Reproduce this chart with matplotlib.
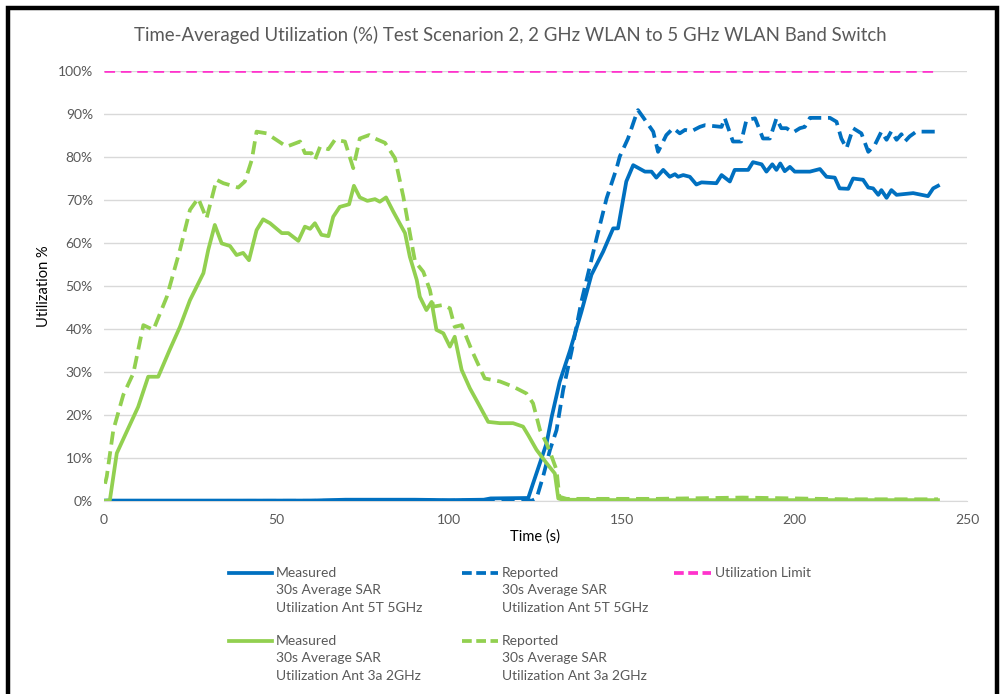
import matplotlib
matplotlib.use("Agg")
import matplotlib.pyplot as plt
from matplotlib.lines import Line2D
from matplotlib.patches import Rectangle
from matplotlib.ticker import FuncFormatter, MultipleLocator

# --- data (time in s, utilization in %) ---
t_meas_5g = [0, 20, 60, 70, 90, 100, 110, 112, 122.9, 124.3, 128.2, 129.7, 132, 135, 138.3, 141.2,
             144.6, 147.5, 148.9, 151.3, 153.3, 156.7, 158.6, 160, 162, 163.9, 165.4, 166.3, 167.8,
             169.7, 171.6, 173.1, 177.4, 178.9, 181.3, 182.7, 186.6, 188, 190.5, 191.9, 193.6, 194.8,
             195.9, 197.2, 198.7, 200.1, 204.5, 207.4, 209.3, 211.7, 213.1, 215.6, 217, 219.9, 221.4,
             222.8, 224.3, 225.2, 226.7, 228.1, 229.6, 234.4, 238.7, 240.2, 241.6]
v_meas_5g = [0.1, 0.1, 0.1, 0.3, 0.3, 0.2, 0.3, 0.6, 0.7, 4.1, 13.4, 19.6, 27.7, 35, 44, 52.6,
             58, 63.4, 63.4, 74.3, 78.1, 76.6, 76.6, 75.2, 77, 75.4, 76, 75.4, 75.8,
             75.4, 73.6, 74.1, 73.9, 75.8, 74.3, 77, 77, 78.8, 78.3, 76.6, 78.3, 77,
             78.5, 76.7, 77.7, 76.6, 76.6, 77.2, 75.4, 75.2, 72.7, 72.6, 75, 74.7, 72.9,
             72.7, 71.2, 72.3, 70.5, 72.3, 71.2, 71.6, 70.9, 72.7, 73.3]

t_rep_5g = [0, 124, 125.3, 127.2, 129.2, 131.1, 133, 135.5, 138.3, 142.7, 145.6, 148.5, 149.4, 151.8,
            153.8, 154.7, 157.1, 159.1, 160.5, 162.9, 164.9, 166.8, 168.3, 170.2, 172.6, 174.1, 178.9,
            179.8, 182.2, 184.6, 186.1, 188.6, 190.9, 192.9, 194.8, 196.2, 197.7, 199.6, 201.6, 203,
            204.5, 210.3, 212.2, 213.6, 215.1, 217, 219.4, 221.4, 223.3, 225.2, 226.7, 228.1, 229.6,
            231, 232, 233.4, 235.3, 241.6]
v_rep_5g = [0, 0.1, 0.6, 5.7, 11.9, 16.5, 25.8, 35, 46.4, 61.1, 70.4, 77.4, 80.1, 84.3,
            89, 90.9, 88.2, 85.9, 81.2, 85.1, 86.7, 85.5, 86.3, 86, 87, 87.4, 87,
            89.1, 83.6, 83.6, 88.6, 89, 84.3, 84.3, 89, 86.7, 86.7, 85.7, 86.7, 87,
            89.1, 89.1, 88.2, 84.3, 82, 86.7, 85.5, 81.2, 82.8, 85.9, 84, 86, 84,
            85.3, 83.6, 84.8, 85.9, 85.9]

t_limit = [0, 241.6]
v_limit = [100, 100]

t_meas_2g = [0, 1.7, 3.7, 6.1, 9.9, 12.8, 15.7, 19, 22, 24.9, 28.8, 30.2, 32.1, 34.1, 36.5, 38.4,
             40.3, 42, 44.2, 46.1, 48.1, 51.5, 53.4, 56.3, 58.2, 59.7, 61.1, 63, 65, 66.4, 68.3, 71,
             72.4, 74.1, 76.3, 78.5, 79.9, 81.7, 83.8, 87.2, 88.6, 90.6, 91.5, 93.4, 94.9, 96.3, 98.3,
             100.2, 101.6, 103.6, 106, 108.4, 111.3, 114.7, 118.5, 121.4, 122.9, 125.3, 128.2, 130.6,
             131.6, 133, 150, 180, 200, 220, 241.6]
v_meas_2g = [0, 0.2, 11.1, 15.3, 21.9, 28.9, 28.9, 35.1, 40.5, 46.7, 53, 58.4, 64.2, 59.9, 59.3, 57.2,
             57.7, 56, 63, 65.5, 64.6, 62.3, 62.3, 60.5, 63.8, 63.3, 64.6, 61.9, 61.6, 66.1, 68.4, 69,
             73.3, 70.6, 69.8, 70.2, 69.6, 70.6, 67.3, 62.3, 56.8, 51.4, 47.5, 44.4, 46.3, 39.8, 39,
             35.9, 38.2, 30.5, 26.2, 22.7, 18.4, 18.1, 18.1, 17.3, 15.3, 11.9, 8.8, 6.4,
             0.6, 0.3, 0.2, 0.2, 0.2, 0.2, 0.2]

t_rep_2g = [0.3, 0.8, 2.7, 5.6, 8.5, 11.4, 14.3, 18.2, 22, 24.9, 27.3, 29.7, 32.6, 34.6, 38.9, 40.8,
            42.8, 44.2, 47.1, 52.9, 56.8, 58.2, 60.1, 61.1, 62.6, 65, 66.9, 69.8, 72.2, 74.1, 76.8,
            78.5, 81.4, 84.3, 86.7, 88.6, 90.1, 92.5, 94.4, 95.4, 98.3, 100.2, 101.6, 103.6, 106.5,
            108.9, 110.3, 114.7, 118.5, 122.4, 124.3, 126.3, 128.2, 129.7, 131.1, 131.9, 134, 160,
            185, 200, 215, 241.6]
v_rep_2g = [4, 5.7, 16.5, 24.7, 29.7, 40.9, 39.8, 47.5, 58.4, 67.7, 70.4, 65.7, 74.7, 73.9, 72.9, 74.3,
            79.3, 85.9, 85.5, 82.4, 83.6, 80.9, 80.9, 79.3, 82.4, 81.8, 84, 83.6, 77.4, 84.3, 85.1,
            84.3, 83.3, 79.7, 70.8, 62.3, 55.7, 53.3, 49.1, 45.2, 45.6, 44.8, 40.5, 40.9, 35.1,
            30.9, 28.5, 27.8, 26.6, 25, 22.7, 16.5, 13.4, 10.3, 7.2, 1, 0.5, 0.5,
            0.8, 0.6, 0.4, 0.4]

x_ticks = [0, 50, 100, 150, 200, 250]
title = "Time-Averaged Utilization (%) Test Scenarion 2, 2 GHz WLAN to 5 GHz WLAN Band Switch"

BLUE = "#0070C0"
GREEN = "#92D050"
PINK = "#FF33CC"
GREY_TXT = "#595959"

W, H = 1001, 694
plt.rcParams["font.family"] = ["Lato", "DejaVu Sans"]

fig = plt.figure(figsize=(W / 100, H / 100), dpi=100)
ax = fig.add_axes([104 / W, 1 - 501 / H, (967 - 104) / W, (501 - 71) / H])

lw = 2.7
ax.plot(t_meas_5g, v_meas_5g, color=BLUE, lw=lw, solid_joinstyle="round", zorder=3)
ax.plot(t_rep_5g, v_rep_5g, color=BLUE, lw=lw, ls=(0, (3.5, 1.8)), zorder=4)
ax.plot(t_limit, v_limit, color=PINK, lw=1.9, ls=(0, (4.0, 2.2)), zorder=5)
ax.plot(t_meas_2g, v_meas_2g, color=GREEN, lw=lw, solid_joinstyle="round", zorder=6)
ax.plot(t_rep_2g, v_rep_2g, color=GREEN, lw=lw, ls=(0, (3.5, 1.8)), zorder=7)

ax.set_xlim(0, 250)
ax.set_ylim(0, 100)
ax.set_xticks(x_ticks)
ax.yaxis.set_major_locator(MultipleLocator(10))
ax.yaxis.set_major_formatter(FuncFormatter(lambda v, p: f"{v:.0f}%"))
ax.grid(axis="y", color="#D9D9D9", lw=1)
ax.set_axisbelow(True)
for s in ["top", "right", "left"]:
    ax.spines[s].set_visible(False)
ax.spines["bottom"].set_color("#D9D9D9")
ax.tick_params(length=0, labelsize=10, labelcolor=GREY_TXT, pad=8)
ax.tick_params(axis="x", pad=9)

ax.set_xlabel("Time (s)", fontsize=10.5, color="black", labelpad=3)
ax.set_ylabel("Utilization %", fontsize=10.5, color="black", labelpad=5)
fig.text(510 / W, 1 - 35 / H, title, fontsize=13.4, color=GREY_TXT, ha="center", va="center")

# legend drawn by hand so the handles sit on the first text line
entries = [
    (229, 272, 573, BLUE, "-", ["Measured", "30s Average SAR", "Utilization Ant 5T 5GHz"]),
    (462, 498, 573, BLUE, "--", ["Reported", "30s Average SAR", "Utilization Ant 5T 5GHz"]),
    (674, 711, 573, PINK, "--", ["Utilization Limit"]),
    (229, 272, 641, GREEN, "-", ["Measured", "30s Average SAR", "Utilization Ant 3a 2GHz"]),
    (462, 498, 641, GREEN, "--", ["Reported", "30s Average SAR", "Utilization Ant 3a 2GHz"]),
]
for x1, x2, y, col, style, lines in entries:
    ls = "-" if style == "-" else (0, (2.6, 1.2))
    fig.add_artist(Line2D([x1 / W, x2 / W], [1 - y / H, 1 - y / H], color=col, lw=lw, ls=ls,
                          transform=fig.transFigure))
    for i, txt in enumerate(lines):
        fig.text((x2 + 4) / W, 1 - (y + i * 17.5) / H, txt, fontsize=10, color=GREY_TXT,
                 ha="left", va="center")

# black outer frame (cut off at bottom)
fig.add_artist(Rectangle((7.5 / W, -0.05), (997 - 7.5) / W, 1.05 - 8 / H, transform=fig.transFigure,
                         fill=False, edgecolor="black", lw=3.2))

fig.savefig("out.png", dpi=100)
